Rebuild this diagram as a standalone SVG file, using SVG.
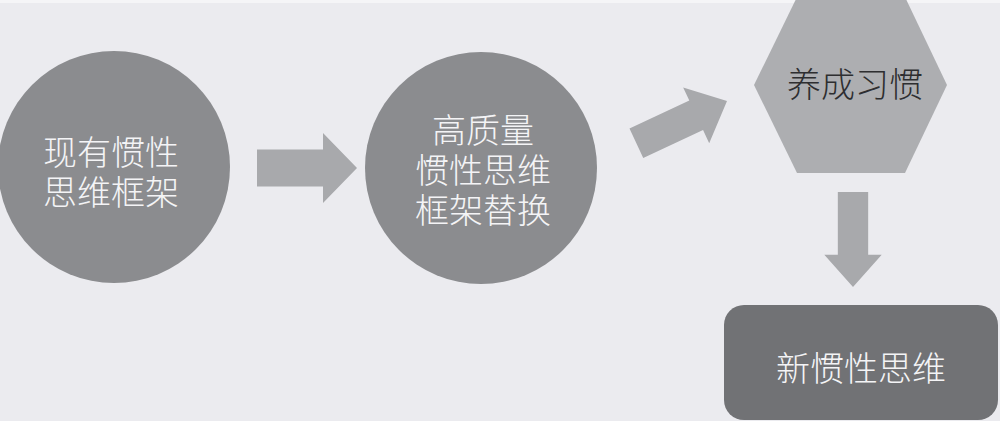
<svg xmlns="http://www.w3.org/2000/svg" width="1000" height="421" viewBox="0 0 1000 421">
  <style>
    .lbl { font-family: "Noto Sans CJK SC", "Noto Sans", sans-serif; font-size: 34px; font-weight: 300; text-anchor: middle; dominant-baseline: central; }
    .light { fill: #f4f4f6; }
    .dark { fill: #2e2e30; }
    .circle { fill: #8b8c8f; }
    .arrow { fill: #a8a9ac; }
  </style>
  <defs>
    <!-- block arrow pointing right, tip at origin -->
    <path id="blockArrow" d="M-100,-18.5 H-34 V-35 L0,0 L-34,35 V18.5 H-100 Z"/>
  </defs>

  <!-- backdrop -->
  <rect x="0" y="0" width="1000" height="421" fill="#ebebef"/>
  <rect x="0" y="0" width="1000" height="3" fill="#f5f5f7"/>

  <g id="node-current">
    <circle class="circle" cx="114" cy="167" r="116"/>
    <text class="lbl light" x="111" y="150">现有惯性</text>
    <text class="lbl light" x="111" y="190">思维框架</text>
  </g>

  <g id="node-replace">
    <circle class="circle" cx="481" cy="168" r="116"/>
    <text class="lbl light" x="483" y="128">高质量</text>
    <text class="lbl light" x="483" y="168">惯性思维</text>
    <text class="lbl light" x="483" y="208">框架替换</text>
  </g>

  <g id="node-habit">
    <polygon points="754,85 797,-3 905,-3 947,85 905,173 797,173" fill="#adaeb1"/>
    <text class="lbl dark" x="855" y="82">养成习惯</text>
  </g>

  <g id="node-new">
    <rect x="724" y="305" width="274" height="115" rx="20" ry="20" fill="#717275"/>
    <text class="lbl light" x="861" y="366">新惯性思维</text>
  </g>

  <g id="connectors" class="arrow">
    <use href="#blockArrow" transform="translate(357,168)"/>
    <use href="#blockArrow" transform="translate(727,101) rotate(-25) scale(1,0.88)"/>
    <use href="#blockArrow" transform="translate(853,287) rotate(90) scale(0.95,0.82)"/>
  </g>
</svg>
